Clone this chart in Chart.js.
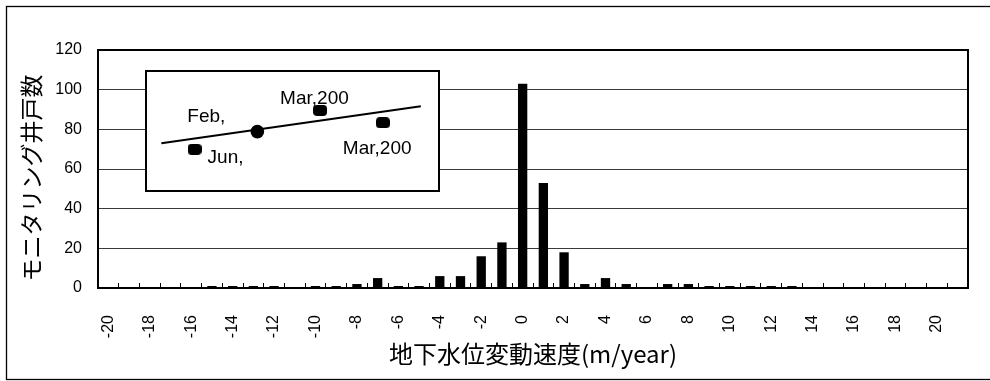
<!DOCTYPE html>
<html><head><meta charset="utf-8">
<script src="https://cdn.jsdelivr.net/npm/chart.js@4/dist/chart.umd.min.js"></script>
<style>
html,body{margin:0;padding:0;background:#fff;}
#wrap{position:relative;width:990px;height:381px;overflow:hidden;background:#fff;}
#main{position:absolute;left:0;top:0;}
#insetBox{position:absolute;left:145px;top:70px;width:295px;height:122px;box-sizing:border-box;border:2px solid #000;background:#fff;}
#inset{display:block;}
</style></head><body>
<div id="wrap">
<canvas id="main" width="990" height="381"></canvas>
<div id="insetBox"><canvas id="inset" width="291" height="118"></canvas></div>
</div>
<script>
// ---- data ----
const categories = [-20,-19,-18,-17,-16,-15,-14,-13,-12,-11,-10,-9,-8,-7,-6,-5,-4,-3,-2,-1,0,1,2,3,4,5,6,7,8,9,10,11,12,13,14,15,16,17,18,19,20,21];
const wellCounts = [0,0,0,0,0,1,1,1,1,0,1,1,2,5,1,1,6,6,16,23,103,53,18,2,5,2,0,2,2,1,1,1,1,1,0,0,0,0,0,0,0,0];
const xTickLabels = ['-20','','-18','','-16','','-14','','-12','','-10','','-8','','-6','','-4','','-2','','0','','2','','4','','6','','8','','10','','12','','14','','16','','18','','20',''];
const yTicks = [0,20,40,60,80,100,120];
const xTitle = '地下水位変動速度(m/year)';
const yTitle = 'モニタリング井戸数';
// inset (small embedded chart)
const insetX = [1, 2, 3, 4];
const insetY = [3.9, 5.93, 8.37, 6.95];
const insetLabels = ['Jun,', 'Feb,', 'Mar,200', 'Mar,200'];
const trendX = [0.47, 4.605];
const trendY = [4.58, 8.85];

// ---- styling ----
const LATIN = "'Liberation Sans', Arial, 'Noto Sans CJK JP', sans-serif";
Chart.defaults.font.family = LATIN;
Chart.defaults.font.size = 16;
Chart.defaults.color = '#000';

const framePlugin = {
  id: 'frame',
  beforeDraw(chart) {
    const ctx = chart.ctx;
    ctx.save();
    ctx.fillStyle = '#fff';
    ctx.fillRect(0, 0, chart.width, chart.height);
    ctx.restore();
  },
  afterDraw(chart) {
    const ctx = chart.ctx, a = chart.chartArea;
    ctx.save();
    ctx.strokeStyle = '#000';
    ctx.lineWidth = 2;
    ctx.strokeRect(a.left, a.top, a.right - a.left, a.bottom - a.top);
    ctx.lineWidth = 1.3;
    ctx.strokeRect(6.5, 6.5, 1000, 373);
    // y axis title
    ctx.translate(31, (a.top + a.bottom) / 2 + 9);
    ctx.rotate(-Math.PI / 2);
    ctx.font = "23px 'Noto Sans CJK JP', " + LATIN;
    ctx.fillStyle = '#000';
    ctx.textAlign = 'center';
    ctx.textBaseline = 'middle';
    ctx.fillText(yTitle, 0, 0);
    ctx.restore();
  }
};

new Chart(document.getElementById('main'), {
  type: 'bar',
  data: {
    labels: categories,
    datasets: [{
      data: wellCounts,
      backgroundColor: '#000',
      borderWidth: 0,
      barPercentage: 0.45,
      categoryPercentage: 1.0
    }]
  },
  options: {
    responsive: false,
    animation: false,
    events: [],
    layout: { padding: { top: 50, right: 22, bottom: 0, left: 0 } },
    plugins: { legend: { display: false }, tooltip: { enabled: false } },
    scales: {
      x: {
        offset: true,
        afterFit(s) { s.height = 93; s.paddingLeft = 0; s.paddingRight = 0; },
        grid: { display: true, drawOnChartArea: false, drawTicks: true, tickLength: -5, color: '#000', lineWidth: 1, offset: true },
        border: { display: false },
        ticks: {
          autoSkip: false, maxRotation: 90, minRotation: 90, padding: 32,
          font: { size: 16 },
          callback: (v, i) => xTickLabels[i]
        },
        title: {
          display: true, text: xTitle,
          font: { size: 24, family: "'Noto Sans CJK JP', " + LATIN },
          padding: { top: 0, bottom: 12.6 }
        }
      },
      y: {
        min: 0, max: 120,
        afterFit(s) { s.width = 98; },
        afterBuildTicks(s) { s.ticks = yTicks.map(v => ({ value: v })); },
        grid: { color: '#3a3a3a', lineWidth: 1, drawTicks: false },
        border: { display: false },
        ticks: { padding: 16, font: { size: 16 } }
      }
    }
  },
  plugins: [framePlugin]
});

// ---- inset ----
function roundedMarker(w, h, r) {
  const c = document.createElement('canvas');
  c.width = w; c.height = h;
  const g = c.getContext('2d');
  g.fillStyle = '#000';
  g.beginPath();
  g.moveTo(r, 0); g.lineTo(w - r, 0); g.quadraticCurveTo(w, 0, w, r);
  g.lineTo(w, h - r); g.quadraticCurveTo(w, h, w - r, h);
  g.lineTo(r, h); g.quadraticCurveTo(0, h, 0, h - r);
  g.lineTo(0, r); g.quadraticCurveTo(0, 0, r, 0);
  g.closePath(); g.fill();
  return c;
}
const rr = roundedMarker(14, 11, 4);
const labelOffsets = [[13, 8], [-70, -15], [-40, -12], [-40, 26]];

const insetLabelPlugin = {
  id: 'insetLabels',
  afterDatasetsDraw(chart) {
    const ctx = chart.ctx;
    const meta = chart.getDatasetMeta(0);
    ctx.save();
    ctx.font = "19px " + LATIN;
    ctx.fillStyle = '#000';
    ctx.textAlign = 'left';
    ctx.textBaseline = 'middle';
    meta.data.forEach((pt, i) => {
      const o = labelOffsets[i];
      ctx.fillText(insetLabels[i], pt.x + o[0], pt.y + o[1]);
    });
    ctx.restore();
  }
};

new Chart(document.getElementById('inset'), {
  type: 'scatter',
  data: {
    datasets: [
      {
        data: insetX.map((x, i) => ({ x, y: insetY[i] })),
        pointStyle: [rr, 'circle', rr, rr],
        pointRadius: 6.8,
        backgroundColor: '#000',
        borderColor: '#000',
        borderWidth: 0,
        clip: false
      },
      {
        data: trendX.map((x, i) => ({ x, y: trendY[i] })),
        showLine: true,
        borderColor: '#000',
        borderWidth: 2,
        pointRadius: 0,
        clip: false
      }
    ]
  },
  options: {
    responsive: false,
    animation: false,
    events: [],
    layout: { padding: 0 },
    plugins: { legend: { display: false }, tooltip: { enabled: false } },
    scales: {
      x: { type: 'linear', display: false, min: 0.35, max: 4.77 },
      y: { type: 'linear', display: false, min: 0, max: 12 }
    }
  },
  plugins: [insetLabelPlugin]
});
</script>
</body></html>
